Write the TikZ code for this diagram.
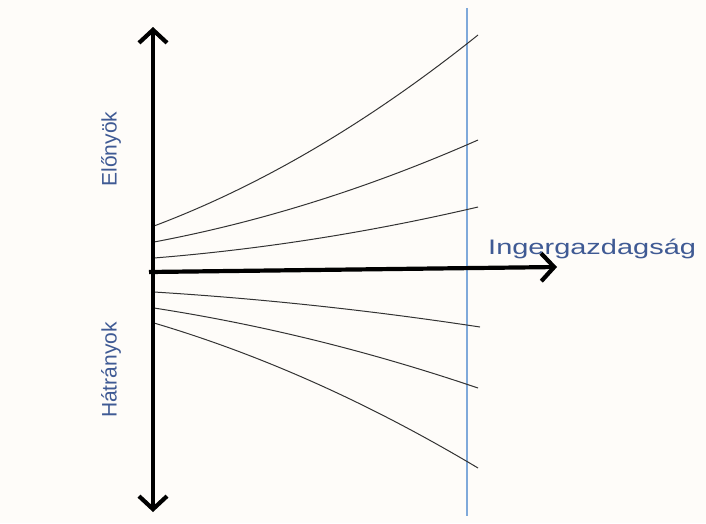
\documentclass[tikz,border=0pt]{standalone}
\usepackage{fontspec}
\setmainfont{Liberation Sans}
\usetikzlibrary{arrows.meta}
\definecolor{bg}{HTML}{FEFCF9}
\definecolor{lbl}{HTML}{3F5A94}
\definecolor{vline}{HTML}{7FA9DA}
\definecolor{crv}{HTML}{333333}
\tikzset{
  mybarb/.tip={Straight Barb[length=13pt,width=28pt]},
  axis/.style={line width=4.2pt, black},
  curve/.style={line width=1pt, crv},
  lab/.style={text=lbl, font=\fontsize{21}{25}\selectfont, inner sep=0pt}
}
\begin{document}
\begin{tikzpicture}[x=1pt,y=-1pt]
\fill[bg] (0,0) rectangle (706,523);
\useasboundingbox (0,0) rectangle (706,523);
% blue vertical line
\coordinate (vt) at (467,8);
\coordinate (vb) at (467,516);
\draw[vline, line width=1.6pt] (vt) -- (vb);
% curves
\coordinate (s1) at (154,226); \coordinate (e1) at (478,35);
\coordinate (s2) at (154,242); \coordinate (e2) at (478,140);
\coordinate (s3) at (154,258); \coordinate (e3) at (478,207);
\coordinate (s4) at (154,292); \coordinate (e4) at (480,327);
\coordinate (s5) at (154,308); \coordinate (e5) at (478,388);
\coordinate (s6) at (154,323); \coordinate (e6) at (478,468);
\draw[curve] (s1) .. controls (262,185.3) and (369.7,121.7) .. (e1);
\draw[curve] (s2) .. controls (262,221.7) and (369.7,187.7) .. (e2);
\draw[curve] (s3) .. controls (262,249.3) and (369.7,232.3) .. (e3);
\draw[curve] (s4) .. controls (262,298.7) and (370.3,310.3) .. (e4);
\draw[curve] (s5) .. controls (262,324.7) and (369.7,351.3) .. (e5);
\draw[curve] (s6) .. controls (262,355) and (369.7,403.3) .. (e6);
% axes
\coordinate (top) at (153,27);
\coordinate (bot) at (153,512);
\coordinate (hs) at (149,272);
\coordinate (he) at (557,267);
\draw[axis, {mybarb}-{mybarb}] (top) -- (bot);
\draw[axis, -{mybarb}] (hs) -- (he);
% labels
\node[lab, rotate=90] (elo) at (111,149) {Előnyök};
\node[lab, rotate=90] (hat) at (111,370) {Hátrányok};
\node[lab, anchor=base west] (ing) at (488,254) {\scalebox{1.38}[1]{Ingergazdagság}};
\end{tikzpicture}
\end{document}
